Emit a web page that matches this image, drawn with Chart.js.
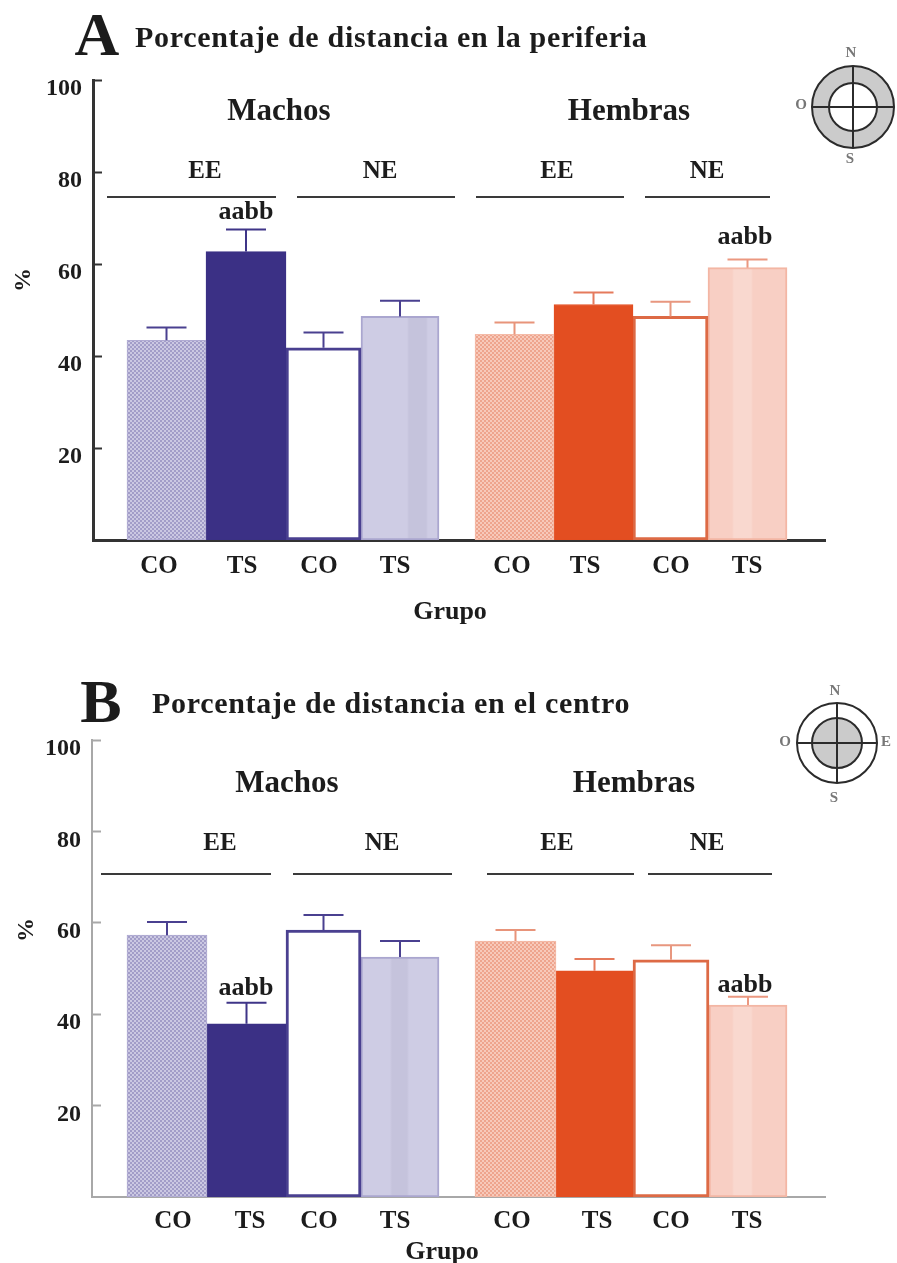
<!DOCTYPE html>
<html lang="es">
<head>
<meta charset="utf-8">
<title>Porcentaje de distancia</title>
<script src="https://cdn.jsdelivr.net/npm/chart.js@4/dist/chart.umd.min.js"></script>
<style>
  html, body { margin: 0; padding: 0; background: #fff; }
  #page { position: relative; width: 897px; height: 1263px; overflow: hidden; }
  canvas { position: absolute; left: 0; }
</style>
</head>
<body>
<div id="page">
  <canvas id="chartA" width="897" height="640" style="top:0"></canvas>
  <canvas id="chartB" width="897" height="623" style="top:640px"></canvas>
</div>
<script>
// categories and tick labels
const categories = ["CO", "TS", "CO", "TS", "CO", "TS", "CO", "TS"];
const yTicks = [20, 40, 60, 80, 100];

// series values (%)
const valuesA = [43.4, 62.7, 41.8, 48.6, 44.7, 51.2, 48.6, 59.2];
const errorsA = [2.8, 4.8, 3.3, 3.4, 2.6, 2.6, 3.2, 1.8];
const valuesB = [57.3, 37.9, 58.4, 52.5, 56.0, 49.5, 51.9, 42.0];
const errorsB = [2.9, 4.6, 3.3, 3.5, 2.4, 2.6, 3.2, 1.8];

const SERIF = '"Liberation Serif", serif';
const NAVY = "#3b3085";
const ORANGE = "#e34e21";
const SLOT = 78; // x axis unit, px per bar
const GROUP_GAP = 36; // px between machos and hembras
const FIRST_BAR = 127; // px where the first bar starts

function dots(base, dot) {
  const c = document.createElement("canvas");
  c.width = 4;
  c.height = 4;
  const g = c.getContext("2d");
  g.fillStyle = base;
  g.fillRect(0, 0, 4, 4);
  g.fillStyle = dot;
  g.fillRect(0, 0, 2, 2);
  g.fillRect(2, 2, 2, 2);
  return g.createPattern(c, "repeat");
}

// bar centres on the x axis, from the bar widths of the panel
function barCenters(widths) {
  let edge = 0;
  return widths.map((w, i) => {
    if (i === 4) edge += GROUP_GAP;
    const c = (edge + w / 2) / SLOT;
    edge += w;
    return c;
  });
}

// flat fill with a slightly different vertical strip, as in the light bars
function stripFill(chartCtx, strip, base, band) {
  const x0 = strip[0] - 1;
  const x1 = strip[1] + 1;
  const g = chartCtx.createLinearGradient(x0, 0, x1, 0);
  const soft = 2 / (x1 - x0);
  g.addColorStop(0, base);
  g.addColorStop(soft, band);
  g.addColorStop(1 - soft, band);
  g.addColorStop(1, base);
  return g;
}

const borders = [
  "#b0abd2", NAVY, "#4a4090", "#aaa6cf",
  "#f4bba8", ORANGE, "#dd6a45", "#f3b6a4",
];
const borderWidths = [1, 1, 3, 2, 1, 1, 3, 2];
const whiskers = [
  "#4a4090", "#3f3588", "#4a4090", "#4a4090",
  "#e8947a", "#e57a5c", "#e8977f", "#eb9880",
];

function text(ctx, str, x, y, size, opts) {
  opts = opts || {};
  ctx.save();
  ctx.font = "bold " + size + "px " + SERIF;
  ctx.fillStyle = opts.color || "#1c1c1c";
  ctx.textAlign = opts.align || "center";
  ctx.textBaseline = opts.baseline || "middle";
  if (opts.spacing) ctx.letterSpacing = opts.spacing + "px";
  ctx.translate(x, y);
  if (opts.rotate) ctx.rotate(opts.rotate);
  ctx.fillText(str, 0, 0);
  ctx.restore();
}

function drawCompass(ctx, c) {
  ctx.save();
  ctx.strokeStyle = "#2b2b2b";
  ctx.lineWidth = 2;
  ctx.fillStyle = "#cbcbcb";
  ctx.beginPath();
  if (c.ring) {
    ctx.arc(c.x, c.y, c.outer, 0, Math.PI * 2);
    ctx.arc(c.x, c.y, c.inner, 0, Math.PI * 2, true);
    ctx.fill();
  } else {
    ctx.arc(c.x, c.y, c.inner, 0, Math.PI * 2);
    ctx.fill();
  }
  ctx.beginPath();
  ctx.arc(c.x, c.y, c.outer, 0, Math.PI * 2);
  ctx.stroke();
  ctx.beginPath();
  ctx.arc(c.x, c.y, c.inner, 0, Math.PI * 2);
  ctx.stroke();
  ctx.beginPath();
  ctx.moveTo(c.x - c.outer, c.y);
  ctx.lineTo(c.x + c.outer, c.y);
  ctx.moveTo(c.x, c.y - c.outer);
  ctx.lineTo(c.x, c.y + c.outer);
  ctx.stroke();
  ctx.restore();
  c.letters.forEach((l) => text(ctx, l[0], l[1], l[2], 15, { color: "#777" }));
}

const errorBars = {
  id: "errorBars",
  afterDatasetsDraw(chart, args, opts) {
    const ctx = chart.ctx;
    const y = chart.scales.y;
    opts.values.forEach((v, i) => {
      const bar = chart.getDatasetMeta(i).data[0];
      const top = y.getPixelForValue(v + opts.errors[i]);
      ctx.save();
      ctx.strokeStyle = whiskers[i];
      ctx.lineWidth = 2;
      ctx.beginPath();
      ctx.moveTo(bar.x, y.getPixelForValue(v));
      ctx.lineTo(bar.x, top);
      ctx.moveTo(bar.x - 20, top);
      ctx.lineTo(bar.x + 20, top);
      ctx.stroke();
      ctx.restore();
    });
  },
};

const annotations = {
  id: "annotations",
  afterDraw(chart, args, p) {
    const ctx = chart.ctx;
    text(ctx, p.letter[0], p.letter[1], p.letter[2], 62, { baseline: "alphabetic" });
    text(ctx, p.title[0], p.title[1], p.title[2], 30, {
      align: "left", baseline: "alphabetic", spacing: p.title[3],
    });
    p.lines.forEach((l) => {
      ctx.save();
      ctx.strokeStyle = "#3a3a3a";
      ctx.lineWidth = 2;
      ctx.beginPath();
      ctx.moveTo(l[0], p.lineY);
      ctx.lineTo(l[1], p.lineY);
      ctx.stroke();
      ctx.restore();
    });
    p.labels.forEach((l) => text(ctx, l[0], l[1], l[2], l[3]));
    text(ctx, "%", p.percent[0], p.percent[1], 24, { rotate: -Math.PI / 2 });
    text(ctx, "Grupo", p.grupo[0], p.grupo[1], 26);
    drawCompass(ctx, p.compass);
  },
};

function makePanel(id, p) {
  const canvas = document.getElementById(id);
  const c2d = canvas.getContext("2d");
  const centers = barCenters(p.widths);
  const fills = [
    dots("#cbc8e2", "#a29dc8"), NAVY, "#ffffff", stripFill(c2d, p.strips[0], "#cecce4", "#c5c3dc"),
    dots("#f7c9ba", "#eea48d"), ORANGE, "#ffffff", stripFill(c2d, p.strips[1], "#f8cfc4", "#f9d8cf"),
  ];
  return new Chart(canvas, {
    type: "bar",
    data: {
      datasets: p.values.map((v, i) => ({
        data: [{ x: centers[i], y: v }],
        backgroundColor: fills[i],
        borderColor: borders[i],
        borderWidth: borderWidths[i],
        borderSkipped: false,
        barThickness: p.widths[i],
        grouped: false,
      })),
    },
    options: {
      responsive: false,
      animation: false,
      layout: { padding: { top: p.top, right: 897 - p.right, bottom: 0, left: 0 } },
      plugins: {
        legend: { display: false },
        tooltip: { enabled: false },
        errorBars: { values: p.values, errors: p.errors },
        annotations: p,
      },
      scales: {
        x: {
          type: "linear",
          offset: false,
          min: (p.left - FIRST_BAR) / SLOT,
          max: (p.right - FIRST_BAR) / SLOT,
          grid: { display: false, drawTicks: false },
          border: { color: p.axisColor, width: p.axisWidth },
          afterFit: (s) => { s.height = p.xHeight; },
          afterBuildTicks: (s) => {
            s.ticks = categories.map((c, i) => ({ value: centers[i] + p.labelShift[i] / SLOT }));
          },
          ticks: {
            autoSkip: false,
            maxRotation: 0,
            padding: p.xPad,
            color: "#1c1c1c",
            font: { family: SERIF, weight: "bold", size: 25 },
            callback: (v, i) => categories[i],
          },
        },
        y: {
          min: 0,
          max: 100,
          afterFit: (s) => { s.width = p.left; },
          afterBuildTicks: (s) => { s.ticks = yTicks.map((v) => ({ value: v })); },
          grid: { drawOnChartArea: false, tickLength: -9, tickColor: p.axisColor, tickWidth: 2 },
          border: { color: p.axisColor, width: p.axisWidth },
          ticks: {
            padding: 20,
            labelOffset: 9,
            color: "#1c1c1c",
            font: { family: SERIF, weight: "bold", size: 24 },
          },
        },
      },
    },
    plugins: [errorBars, annotations],
  });
}

makePanel("chartA", {
  values: valuesA,
  errors: errorsA,
  widths: [79, 80, 75, 78, 79, 79, 75, 79],
  strips: [[408, 427], [733, 752]],
  left: 93,
  right: 825,
  top: 80,
  xHeight: 100,
  xPad: 12,
  axisColor: "#333333",
  axisWidth: 3,
  labelShift: [-7.5, -4, -4.5, -5, -2.5, -8.5, 0.5, -0.5],
  letter: ["A", 97, 55],
  title: ["Porcentaje de distancia en la periferia", 135, 47, 0.7],
  lineY: 197,
  lines: [[107, 276], [297, 455], [476, 624], [645, 770]],
  labels: [
    ["Machos", 279, 112, 31], ["Hembras", 629, 112, 31],
    ["EE", 205, 172, 25], ["NE", 380, 172, 25], ["EE", 557, 172, 25], ["NE", 707, 172, 25],
    ["aabb", 246, 212, 26], ["aabb", 745, 237, 26],
  ],
  percent: [24, 280],
  grupo: [450, 612],
  compass: {
    x: 853, y: 107, outer: 41, inner: 24, ring: true,
    letters: [["N", 851, 53], ["O", 801, 105], ["S", 850, 159]],
  },
});

// panel B sits 640px down the page, its coordinates are local to the canvas
makePanel("chartB", {
  values: valuesB,
  errors: errorsB,
  widths: [80, 79, 75, 78, 81, 77, 76, 78],
  strips: [[391, 408], [733, 752]],
  left: 92,
  right: 825,
  top: 100,
  xHeight: 66,
  xPad: 10,
  axisColor: "#a8a8a8",
  axisWidth: 2,
  labelShift: [6, 3.5, -4.5, -5, -3.5, 2.5, 0, -1],
  letter: ["B", 101, 82],
  title: ["Porcentaje de distancia en el centro", 152, 73, 0.7],
  lineY: 234,
  lines: [[101, 271], [293, 452], [487, 634], [648, 772]],
  labels: [
    ["Machos", 287, 144, 31], ["Hembras", 634, 144, 31],
    ["EE", 220, 204, 25], ["NE", 382, 204, 25], ["EE", 557, 204, 25], ["NE", 707, 204, 25],
    ["aabb", 246, 348, 26], ["aabb", 745, 345, 26],
  ],
  percent: [27, 290],
  grupo: [442, 612],
  compass: {
    x: 837, y: 103, outer: 40, inner: 25, ring: false,
    letters: [["N", 835, 51], ["O", 785, 102], ["E", 886, 102], ["S", 834, 158]],
  },
});
</script>
</body>
</html>
